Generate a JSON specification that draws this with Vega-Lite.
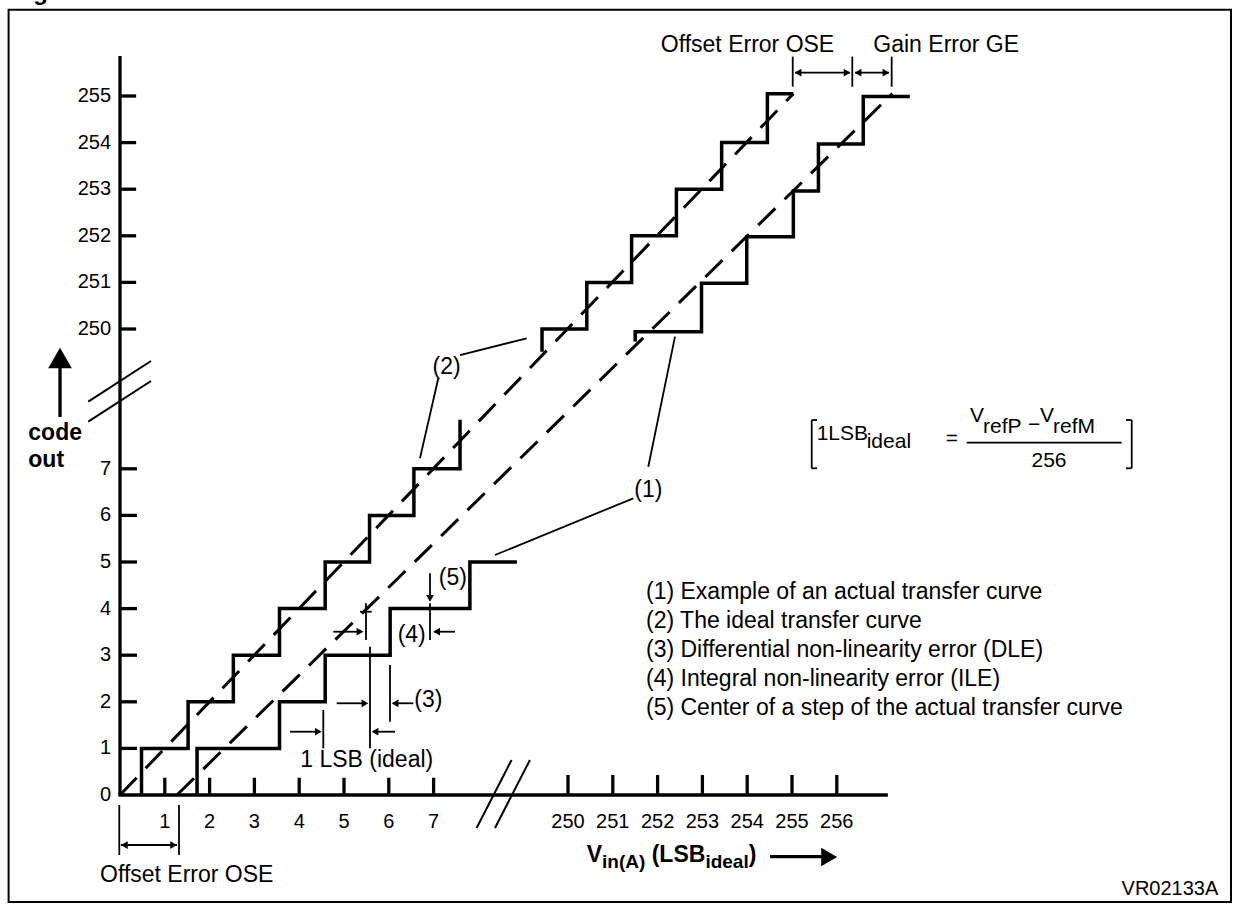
{
  "$schema": "https://vega.github.io/schema/vega-lite/v6.json",
  "width": 1234,
  "height": 905,
  "autosize": {"type": "none"},
  "padding": 0,
  "background": "white",
  "config": {"view": {"stroke": null}, "text": {"font": "Liberation Sans", "color": "black"}},
  "datasets": {
    "frame": [{"x": -2.487, "x2": 24.799, "y": 16.852, "y2": -2.296}],
    "heavy": [
      {"x": 0, "y": 0, "x2": 0, "y2": 15.86},
      {"x": -0.037, "y": 0, "x2": 17.14, "y2": 0},
      {"x": 0, "y": 1, "x2": 0.38, "y2": 1},
      {"x": 0, "y": 2, "x2": 0.38, "y2": 2},
      {"x": 0, "y": 3, "x2": 0.38, "y2": 3},
      {"x": 0, "y": 4, "x2": 0.38, "y2": 4},
      {"x": 0, "y": 5, "x2": 0.38, "y2": 5},
      {"x": 0, "y": 6, "x2": 0.38, "y2": 6},
      {"x": 0, "y": 7, "x2": 0.38, "y2": 7},
      {"x": 0, "y": 10, "x2": 0.36, "y2": 10},
      {"x": 0, "y": 11, "x2": 0.36, "y2": 11},
      {"x": 0, "y": 12, "x2": 0.36, "y2": 12},
      {"x": 0, "y": 13, "x2": 0.36, "y2": 13},
      {"x": 0, "y": 14, "x2": 0.36, "y2": 14},
      {"x": 0, "y": 15, "x2": 0.36, "y2": 15},
      {"x": 1, "y": 0, "x2": 1, "y2": 0.37},
      {"x": 2, "y": 0, "x2": 2, "y2": 0.37},
      {"x": 3, "y": 0, "x2": 3, "y2": 0.37},
      {"x": 4, "y": 0, "x2": 4, "y2": 0.37},
      {"x": 5, "y": 0, "x2": 5, "y2": 0.37},
      {"x": 6, "y": 0, "x2": 6, "y2": 0.37},
      {"x": 7, "y": 0, "x2": 7, "y2": 0.37},
      {"x": 10, "y": 0, "x2": 10, "y2": 0.43},
      {"x": 11, "y": 0, "x2": 11, "y2": 0.43},
      {"x": 12, "y": 0, "x2": 12, "y2": 0.43},
      {"x": 13, "y": 0, "x2": 13, "y2": 0.43},
      {"x": 14, "y": 0, "x2": 14, "y2": 0.43},
      {"x": 15, "y": 0, "x2": 15, "y2": 0.43},
      {"x": 16, "y": 0, "x2": 16, "y2": 0.43},
      {"x": -1.339, "y": 8.112, "x2": -1.339, "y2": 9.2},
      {"x": 14.509, "y": -1.324, "x2": 15.68, "y2": -1.324}
    ],
    "breaks": [
      {"x": -0.708, "y": 8.44, "x2": 0.692, "y2": 9.313},
      {"x": -0.708, "y": 8.011, "x2": 0.692, "y2": 8.884},
      {"x": 7.96, "y": -0.708, "x2": 8.74, "y2": 0.751},
      {"x": 8.37, "y": -0.708, "x2": 9.15, "y2": 0.751}
    ],
    "thin": [
      {"x": 7.589, "y": 9.442, "x2": 9.078, "y2": 9.8},
      {"x": 7.105, "y": 8.942, "x2": 6.696, "y2": 7.225},
      {"x": 11.792, "y": 7.045, "x2": 12.388, "y2": 9.835},
      {"x": 11.458, "y": 6.367, "x2": 8.371, "y2": 5.15},
      {"x": 6.92, "y": 4.757, "x2": 6.92, "y2": 4.206},
      {"x": 6.92, "y": 4.114, "x2": 6.92, "y2": 3.326},
      {"x": 7.478, "y": 3.504, "x2": 7.009, "y2": 3.504},
      {"x": 4.761, "y": 3.504, "x2": 5.402, "y2": 3.504},
      {"x": 5.491, "y": 4.114, "x2": 5.491, "y2": 3.326},
      {"x": 5.357, "y": 3.933, "x2": 5.618, "y2": 3.933},
      {"x": 5.58, "y": 3.182, "x2": 5.58, "y2": 1.002},
      {"x": 6.027, "y": 2.79, "x2": 6.027, "y2": 1.573},
      {"x": 6.547, "y": 1.968, "x2": 6.094, "y2": 1.968},
      {"x": 4.837, "y": 1.968, "x2": 5.491, "y2": 1.968},
      {"x": 4.538, "y": 1.824, "x2": 4.538, "y2": 1.002},
      {"x": 3.795, "y": 1.358, "x2": 4.464, "y2": 1.358},
      {"x": 6.138, "y": 1.358, "x2": 5.647, "y2": 1.358},
      {"x": -0.016, "y": -0.215, "x2": -0.016, "y2": -1.288},
      {"x": 1.317, "y": -0.215, "x2": 1.317, "y2": -1.288},
      {"x": 0.022, "y": -1.073, "x2": 1.272, "y2": -1.073},
      {"x": 15.016, "y": 15.844, "x2": 15.016, "y2": 15.2},
      {"x": 16.346, "y": 15.844, "x2": 16.346, "y2": 15.2},
      {"x": 17.225, "y": 15.844, "x2": 17.225, "y2": 15.2},
      {"x": 15.067, "y": 15.5, "x2": 16.295, "y2": 15.5},
      {"x": 16.406, "y": 15.5, "x2": 17.165, "y2": 15.5},
      {"x": 18.9, "y": 7.56, "x2": 22.36, "y2": 7.56},
      {"x": 15.44, "y": 8.047, "x2": 15.44, "y2": 7.011},
      {"x": 15.44, "y": 8.047, "x2": 15.558, "y2": 8.047},
      {"x": 15.44, "y": 7.011, "x2": 15.558, "y2": 7.011},
      {"x": 22.583, "y": 8.047, "x2": 22.583, "y2": 7.011},
      {"x": 22.583, "y": 8.047, "x2": 22.455, "y2": 8.047},
      {"x": 22.583, "y": 7.011, "x2": 22.455, "y2": 7.011}
    ],
    "dashed": [
      {"curve": "ideal", "x": 0, "y": 0, "x2": 15.03, "y2": 15.05},
      {"curve": "actual", "x": 1.27, "y": 0, "x2": 17.24, "y2": 15.05}
    ],
    "stairs": [
      {"curve": "ideal_lo", "i": 0, "x": 0.48, "y": 0},
      {"curve": "ideal_lo", "i": 1, "x": 0.48, "y": 1},
      {"curve": "ideal_lo", "i": 2, "x": 1.52, "y": 1},
      {"curve": "ideal_lo", "i": 3, "x": 1.52, "y": 2},
      {"curve": "ideal_lo", "i": 4, "x": 2.53, "y": 2},
      {"curve": "ideal_lo", "i": 5, "x": 2.53, "y": 3},
      {"curve": "ideal_lo", "i": 6, "x": 3.56, "y": 3},
      {"curve": "ideal_lo", "i": 7, "x": 3.56, "y": 4},
      {"curve": "ideal_lo", "i": 8, "x": 4.58, "y": 4},
      {"curve": "ideal_lo", "i": 9, "x": 4.58, "y": 5},
      {"curve": "ideal_lo", "i": 10, "x": 5.57, "y": 5},
      {"curve": "ideal_lo", "i": 11, "x": 5.57, "y": 6},
      {"curve": "ideal_lo", "i": 12, "x": 6.56, "y": 6},
      {"curve": "ideal_lo", "i": 13, "x": 6.56, "y": 7},
      {"curve": "ideal_lo", "i": 14, "x": 7.59, "y": 7},
      {"curve": "ideal_lo", "i": 15, "x": 7.59, "y": 8.05},
      {"curve": "ideal_hi", "i": 0, "x": 9.42, "y": 9.51},
      {"curve": "ideal_hi", "i": 1, "x": 9.42, "y": 10},
      {"curve": "ideal_hi", "i": 2, "x": 10.42, "y": 10},
      {"curve": "ideal_hi", "i": 3, "x": 10.42, "y": 11},
      {"curve": "ideal_hi", "i": 4, "x": 11.42, "y": 11},
      {"curve": "ideal_hi", "i": 5, "x": 11.42, "y": 12},
      {"curve": "ideal_hi", "i": 6, "x": 12.42, "y": 12},
      {"curve": "ideal_hi", "i": 7, "x": 12.42, "y": 13},
      {"curve": "ideal_hi", "i": 8, "x": 13.43, "y": 13},
      {"curve": "ideal_hi", "i": 9, "x": 13.43, "y": 14},
      {"curve": "ideal_hi", "i": 10, "x": 14.45, "y": 14},
      {"curve": "ideal_hi", "i": 11, "x": 14.45, "y": 15.05},
      {"curve": "ideal_hi", "i": 12, "x": 15.03, "y": 15.05},
      {"curve": "actual_lo", "i": 0, "x": 1.72, "y": 0},
      {"curve": "actual_lo", "i": 1, "x": 1.72, "y": 1},
      {"curve": "actual_lo", "i": 2, "x": 3.56, "y": 1},
      {"curve": "actual_lo", "i": 3, "x": 3.56, "y": 2},
      {"curve": "actual_lo", "i": 4, "x": 4.58, "y": 2},
      {"curve": "actual_lo", "i": 5, "x": 4.58, "y": 3},
      {"curve": "actual_lo", "i": 6, "x": 6.03, "y": 3},
      {"curve": "actual_lo", "i": 7, "x": 6.03, "y": 4},
      {"curve": "actual_lo", "i": 8, "x": 7.81, "y": 4},
      {"curve": "actual_lo", "i": 9, "x": 7.81, "y": 5},
      {"curve": "actual_lo", "i": 10, "x": 8.86, "y": 5},
      {"curve": "actual_hi", "i": 0, "x": 11.5, "y": 9.73},
      {"curve": "actual_hi", "i": 1, "x": 11.5, "y": 9.94},
      {"curve": "actual_hi", "i": 2, "x": 12.98, "y": 9.94},
      {"curve": "actual_hi", "i": 3, "x": 12.98, "y": 10.98},
      {"curve": "actual_hi", "i": 4, "x": 13.99, "y": 10.98},
      {"curve": "actual_hi", "i": 5, "x": 13.99, "y": 11.98},
      {"curve": "actual_hi", "i": 6, "x": 15.03, "y": 11.98},
      {"curve": "actual_hi", "i": 7, "x": 15.03, "y": 12.96},
      {"curve": "actual_hi", "i": 8, "x": 15.59, "y": 12.96},
      {"curve": "actual_hi", "i": 9, "x": 15.59, "y": 13.97},
      {"curve": "actual_hi", "i": 10, "x": 16.59, "y": 13.97},
      {"curve": "actual_hi", "i": 11, "x": 16.59, "y": 14.99},
      {"curve": "actual_hi", "i": 12, "x": 17.63, "y": 14.99}
    ],
    "heads_right": [
      {"x": 5.356, "y": 3.504}, {"x": 5.468, "y": 1.968}, {"x": 4.427, "y": 1.358},
      {"x": 1.196, "y": -1.073}, {"x": 16.228, "y": 15.5}, {"x": 17.098, "y": 15.5}
    ],
    "heads_left": [
      {"x": 7.068, "y": 3.504}, {"x": 6.14, "y": 1.968}, {"x": 5.693, "y": 1.358},
      {"x": 0.098, "y": -1.073}, {"x": 15.134, "y": 15.5}, {"x": 16.473, "y": 15.5}
    ],
    "heads_down": [{"x": 6.92, "y": 4.22}],
    "big_up": [{"x": -1.339, "y": 9.378}],
    "big_right": [{"x": 15.83, "y": -1.33}],
    "ylabels": [
      {"x": -0.2, "y": 0, "t": "0"}, {"x": -0.2, "y": 1, "t": "1"}, {"x": -0.2, "y": 2, "t": "2"},
      {"x": -0.2, "y": 3, "t": "3"}, {"x": -0.2, "y": 4, "t": "4"}, {"x": -0.2, "y": 5, "t": "5"},
      {"x": -0.2, "y": 6, "t": "6"}, {"x": -0.2, "y": 7, "t": "7"},
      {"x": -0.2, "y": 10, "t": "250"}, {"x": -0.2, "y": 11, "t": "251"}, {"x": -0.2, "y": 12, "t": "252"},
      {"x": -0.2, "y": 13, "t": "253"}, {"x": -0.2, "y": 14, "t": "254"}, {"x": -0.2, "y": 15, "t": "255"}
    ],
    "xlabels": [
      {"x": 1, "y": -0.573, "t": "1"}, {"x": 2, "y": -0.573, "t": "2"}, {"x": 3, "y": -0.573, "t": "3"},
      {"x": 4, "y": -0.573, "t": "4"}, {"x": 5, "y": -0.573, "t": "5"}, {"x": 6, "y": -0.573, "t": "6"},
      {"x": 7, "y": -0.573, "t": "7"},
      {"x": 10, "y": -0.573, "t": "250"}, {"x": 11, "y": -0.573, "t": "251"}, {"x": 12, "y": -0.573, "t": "252"},
      {"x": 13, "y": -0.573, "t": "253"}, {"x": 14, "y": -0.573, "t": "254"}, {"x": 15, "y": -0.573, "t": "255"},
      {"x": 16, "y": -0.573, "t": "256"}
    ],
    "notes_center": [
      {"x": 7.292, "y": 9.191, "t": "(2)"},
      {"x": 11.792, "y": 6.545, "t": "(1)"},
      {"x": 7.43, "y": 4.65, "t": "(5)"},
      {"x": 6.511, "y": 3.433, "t": "(4)"},
      {"x": 6.882, "y": 2.039, "t": "(3)"},
      {"x": 5.507, "y": 0.751, "t": "1 LSB (ideal)"},
      {"x": 14.007, "y": 16.094, "t": "Offset Error OSE"}
    ],
    "notes_left": [
      {"x": 16.815, "y": 16.094, "t": "Gain Error GE"},
      {"x": -0.446, "y": -1.717, "t": "Offset Error OSE"},
      {"x": 11.741, "y": 4.356, "t": "(1) Example of an actual transfer curve"},
      {"x": 11.741, "y": 3.734, "t": "(2) The ideal transfer curve"},
      {"x": 11.741, "y": 3.112, "t": "(3) Differential non-linearity error (DLE)"},
      {"x": 11.741, "y": 2.489, "t": "(4) Integral non-linearity error (ILE)"},
      {"x": 11.741, "y": 1.867, "t": "(5) Center of a step of the actual transfer curve"}
    ],
    "ytitle": [
      {"x": -2.047, "y": 7.618, "t": "code"},
      {"x": -2.047, "y": 7.045, "t": "out"}
    ],
    "formula_left": [
      {"x": 15.551, "y": 7.618, "t": "1LSB"},
      {"x": 16.667, "y": 7.446, "t": "ideal"},
      {"x": 18.973, "y": 8.004, "t": "V"},
      {"x": 19.263, "y": 7.768, "t": "refP"},
      {"x": 20.536, "y": 8.004, "t": "V"},
      {"x": 20.826, "y": 7.768, "t": "refM"}
    ],
    "formula_center": [
      {"x": 18.567, "y": 7.511, "t": "="},
      {"x": 20.402, "y": 7.811, "t": "−"},
      {"x": 20.737, "y": 7.045, "t": "256"}
    ],
    "xtitle_main": [
      {"x": 10.417, "y": -1.431, "t": "V"},
      {"x": 11.868, "y": -1.431, "t": "(LSB"},
      {"x": 14.033, "y": -1.431, "t": ")"}
    ],
    "xtitle_sub": [
      {"x": 10.759, "y": -1.567, "t": "in(A)"},
      {"x": 13.067, "y": -1.567, "t": "ideal"}
    ],
    "code_id": [{"x": 24.516, "y": -2.017, "t": "VR02133A"}],
    "fig_title": [{"x": -2.41, "y": 17.06, "t": "Figure"}]
  },
  "encoding": {
    "x": {"field": "x", "type": "quantitative", "scale": {"domain": [-2.6786, 24.8661], "nice": false, "zero": false}, "axis": null},
    "y": {"field": "y", "type": "quantitative", "scale": {"domain": [-2.3605, 17.0601], "nice": false, "zero": false}, "axis": null}
  },
  "layer": [
    {"data": {"name": "frame"}, "mark": {"type": "rect", "filled": false, "stroke": "black", "strokeWidth": 2}, "encoding": {"x2": {"field": "x2"}, "y2": {"field": "y2"}}},
    {"data": {"name": "dashed"}, "mark": {"type": "rule", "color": "black", "strokeWidth": 3, "strokeDash": [24, 13], "strokeCap": "butt"}, "encoding": {"x2": {"field": "x2"}, "y2": {"field": "y2"}}},
    {"data": {"name": "stairs"}, "mark": {"type": "line", "color": "black", "strokeWidth": 3.5, "strokeJoin": "miter", "strokeCap": "butt"}, "encoding": {"detail": {"field": "curve"}, "order": {"field": "i", "type": "quantitative"}}},
    {"data": {"name": "heavy"}, "mark": {"type": "rule", "color": "black", "strokeWidth": 3.3, "strokeCap": "butt"}, "encoding": {"x2": {"field": "x2"}, "y2": {"field": "y2"}}},
    {"data": {"name": "breaks"}, "mark": {"type": "rule", "color": "black", "strokeWidth": 2}, "encoding": {"x2": {"field": "x2"}, "y2": {"field": "y2"}}},
    {"data": {"name": "thin"}, "mark": {"type": "rule", "color": "black", "strokeWidth": 1.8}, "encoding": {"x2": {"field": "x2"}, "y2": {"field": "y2"}}},
    {"data": {"name": "heads_right"}, "mark": {"type": "point", "shape": "triangle-right", "filled": true, "color": "black", "size": 60, "opacity": 1}},
    {"data": {"name": "heads_left"}, "mark": {"type": "point", "shape": "triangle-left", "filled": true, "color": "black", "size": 60, "opacity": 1}},
    {"data": {"name": "heads_down"}, "mark": {"type": "point", "shape": "triangle-down", "filled": true, "color": "black", "size": 60, "opacity": 1}},
    {"data": {"name": "big_up"}, "mark": {"type": "point", "shape": "triangle-up", "filled": true, "color": "black", "size": 560, "opacity": 1}},
    {"data": {"name": "big_right"}, "mark": {"type": "point", "shape": "triangle-right", "filled": true, "color": "black", "size": 340, "opacity": 1}},
    {"data": {"name": "ylabels"}, "mark": {"type": "text", "fontSize": 20, "align": "right", "baseline": "middle"}, "encoding": {"text": {"field": "t"}}},
    {"data": {"name": "xlabels"}, "mark": {"type": "text", "fontSize": 20, "align": "center", "baseline": "middle"}, "encoding": {"text": {"field": "t"}}},
    {"data": {"name": "notes_center"}, "mark": {"type": "text", "fontSize": 23, "align": "center", "baseline": "middle"}, "encoding": {"text": {"field": "t"}}},
    {"data": {"name": "notes_left"}, "mark": {"type": "text", "fontSize": 23, "align": "left", "baseline": "middle"}, "encoding": {"text": {"field": "t"}}},
    {"data": {"name": "ytitle"}, "mark": {"type": "text", "fontSize": 23, "fontWeight": "bold", "align": "left", "baseline": "alphabetic"}, "encoding": {"text": {"field": "t"}}},
    {"data": {"name": "formula_left"}, "mark": {"type": "text", "fontSize": 21, "align": "left", "baseline": "alphabetic"}, "encoding": {"text": {"field": "t"}}},
    {"data": {"name": "formula_center"}, "mark": {"type": "text", "fontSize": 21, "align": "center", "baseline": "alphabetic"}, "encoding": {"text": {"field": "t"}}},
    {"data": {"name": "xtitle_main"}, "mark": {"type": "text", "fontSize": 23, "fontWeight": "bold", "align": "left", "baseline": "alphabetic"}, "encoding": {"text": {"field": "t"}}},
    {"data": {"name": "xtitle_sub"}, "mark": {"type": "text", "fontSize": 19, "fontWeight": "bold", "align": "left", "baseline": "alphabetic"}, "encoding": {"text": {"field": "t"}}},
    {"data": {"name": "code_id"}, "mark": {"type": "text", "fontSize": 20, "align": "right", "baseline": "middle"}, "encoding": {"text": {"field": "t"}}},
    {"data": {"name": "fig_title"}, "mark": {"type": "text", "fontSize": 24, "fontWeight": "bold", "align": "left", "baseline": "alphabetic"}, "encoding": {"text": {"field": "t"}}}
  ]
}
